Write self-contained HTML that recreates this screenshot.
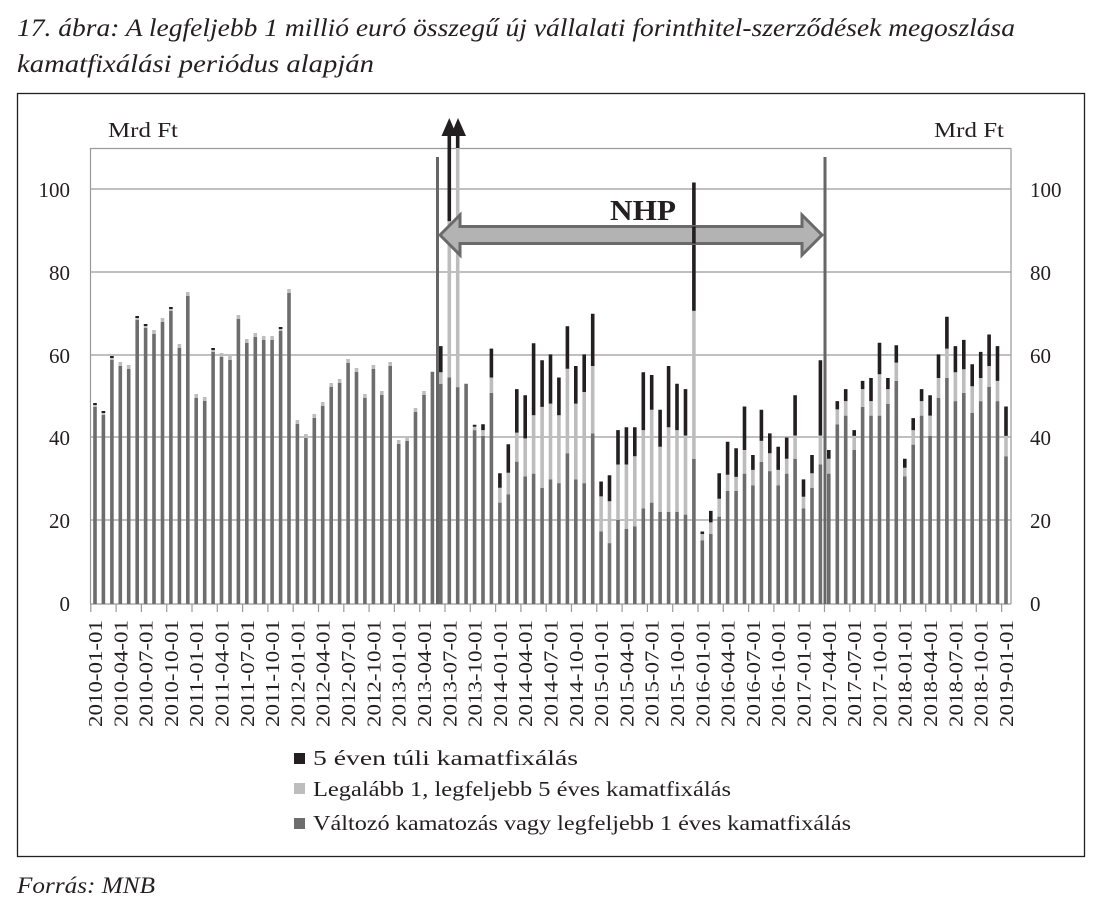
<!DOCTYPE html>
<html><head><meta charset="utf-8"><style>
html,body{margin:0;padding:0;background:#fff;}
svg{display:block;font-family:"Liberation Serif",serif;}
</style></head><body>
<svg width="1098" height="912" viewBox="0 0 1098 912" xmlns="http://www.w3.org/2000/svg">
<text x="17" y="36" font-size="25" font-style="italic" fill="#231f20" textLength="998" lengthAdjust="spacingAndGlyphs">17. ábra: A legfeljebb 1 millió euró összegű új vállalati forinthitel-szerződések megoszlása</text>
<text x="17" y="72" font-size="25" font-style="italic" fill="#231f20" textLength="357" lengthAdjust="spacingAndGlyphs">kamatfixálási periódus alapján</text>
<rect x="17.5" y="93.5" width="1067" height="763" fill="none" stroke="#231f20" stroke-width="1.3"/>
<text x="108" y="137" font-size="21" fill="#231f20" textLength="70" lengthAdjust="spacingAndGlyphs">Mrd Ft</text>
<text x="934" y="137" font-size="21" fill="#231f20" textLength="70" lengthAdjust="spacingAndGlyphs">Mrd Ft</text>
<g stroke="#9a9a9a" stroke-width="1.2">
<line x1="90.5" y1="148.5" x2="1011" y2="148.5"/>
<line x1="90.5" y1="148" x2="90.5" y2="604"/>
<line x1="1011" y1="148" x2="1011" y2="604"/>
<line x1="90" y1="189" x2="1011" y2="189"/>
<line x1="90" y1="272" x2="1011" y2="272"/>
<line x1="90" y1="355" x2="1011" y2="355"/>
<line x1="90" y1="437" x2="1011" y2="437"/>
<line x1="90" y1="520" x2="1011" y2="520"/>
<line x1="90" y1="604" x2="1011" y2="604"/>
</g>
<g font-size="21" fill="#231f20" text-anchor="end">
<text x="70" y="197">100</text><text x="70" y="280">80</text><text x="70" y="363">60</text><text x="70" y="445">40</text><text x="70" y="528">20</text><text x="70" y="611">0</text>
</g>
<g font-size="21" fill="#231f20">
<text x="1030" y="197">100</text><text x="1030" y="280">80</text><text x="1030" y="363">60</text><text x="1030" y="445">40</text><text x="1030" y="528">20</text><text x="1030" y="611">0</text>
</g>
<g fill="none" stroke-width="3.6">
<path stroke="#6d6d6d" d="M95 604V407M103.4 604V415M111.9 604V360M120.3 604V366M128.7 604V369M137.2 604V320M145.6 604V328M154 604V334M162.5 604V322M170.9 604V311M179.4 604V348M187.8 604V296M196.2 604V398M204.7 604V401M213.1 604V352M221.5 604V357M230 604V360M238.4 604V319M246.8 604V343M255.3 604V337M263.7 604V340M272.1 604V340M280.6 604V331M289 604V293M297.4 604V424M305.9 604V438M314.3 604V418M322.7 604V406M331.2 604V387M339.6 604V383M348.1 604V363M356.5 604V372M364.9 604V398M373.4 604V369M381.8 604V395M390.2 604V366M398.7 604V444M407.1 604V441M415.5 604V412M424 604V395M432.4 604V371.7M440.8 604V383.8M449.3 604V377.5M457.7 604V387.1M466.1 604V383.8M474.6 604V430.1M483 604V435.9M491.4 604V392.9M499.9 604V502.6M508.3 604V494.3M516.8 604V461.6M525.2 604V476.5M533.6 604V473.6M542.1 604V487.7M550.5 604V479.4M558.9 604V483.1M567.4 604V453.3M575.8 604V479.4M584.2 604V483.1M592.7 604V433.4M601.1 604V531.5M609.5 604V543.1M618 604V520M626.4 604V528.7M634.8 604V526.2M643.3 604V508.4M651.7 604V502.6M660.1 604V511.7M668.6 604V511.7M677 604V511.7M685.5 604V514.6M693.9 604V458.7M702.3 604V540.2M710.8 604V534M719.2 604V516.6M727.6 604V491M736.1 604V491M744.5 604V473.6M752.9 604V485.2M761.4 604V462M769.8 604V471.1M778.2 604V485.2M786.7 604V473.6M795.1 604V458.7M803.5 604V508.4M812 604V487.7M820.4 604V464.5M828.8 604V473.6M837.3 604V424.3M845.7 604V415.6M854.2 604V450M862.6 604V406.9M871 604V415.6M879.5 604V415.6M887.9 604V404M896.3 604V380.9M904.8 604V476.5M913.2 604V444.6M921.6 604V415.6M930.1 604V435.9M938.5 604V397.8M946.9 604V378M955.4 604V401.1M963.8 604V392.9M972.2 604V412.7M980.7 604V401.1M989.1 604V386.7M997.5 604V401.1M1006 604V456.2"/>
<path stroke="#bdbdbd" d="M95 407V403M103.4 415V411M111.9 360V356M120.3 366V362M128.7 369V365M137.2 320V316M145.6 328V324M154 334V330M162.5 322V318M170.9 311V307M179.4 348V344M187.8 296V292M196.2 398V394M204.7 401V397M213.1 352V348M221.5 357V353M230 360V356M238.4 319V315M246.8 343V339M255.3 337V333M263.7 340V336M272.1 340V336M280.6 331V327M289 293V289M297.4 424V420M305.9 438V434M314.3 418V414M322.7 406V402M331.2 387V383M339.6 383V379M348.1 363V359M356.5 372V368M364.9 398V394M373.4 369V365M381.8 395V391M390.2 366V362M398.7 444V440M407.1 441V437M415.5 412V408M424 395V391M440.8 383.8V372.2M449.3 377.5V221.1M457.7 387.1V148M474.6 430.1V426.8M483 435.9V430.1M491.4 392.9V377.5M499.9 502.6V487.7M508.3 494.3V472.8M516.8 461.6V432.6M525.2 476.5V438.4M533.6 473.6V415.2M542.1 487.7V406.9M550.5 479.4V403.6M558.9 483.1V415.2M567.4 453.3V368.8M575.8 479.4V403.6M584.2 483.1V392M592.7 433.4V366M601.1 531.5V496.4M609.5 543.1V501.3M618 520V464.5M626.4 528.7V464.5M634.8 526.2V456.2M643.3 508.4V430.1M651.7 502.6V409.8M660.1 511.7V446.7M668.6 511.7V427.2M677 511.7V430.1M685.5 514.6V435.5M693.9 458.7V310.9M702.3 540.2V534M710.8 534V522.4M719.2 516.6V498.8M727.6 491V474.8M736.1 491V476.9M744.5 473.6V450M752.9 485.2V469.9M761.4 462V440.9M769.8 471.1V453.3M778.2 485.2V469.9M786.7 473.6V458.7M795.1 458.7V435.5M803.5 508.4V496.8M812 487.7V473.2M820.4 464.5V435.5M828.8 473.6V458.7M837.3 424.3V409.4M845.7 415.6V401.1M854.2 450V435.9M862.6 406.9V389.1M871 415.6V401.1M879.5 415.6V374.2M887.9 404V389.1M896.3 380.9V362.6M904.8 476.5V467.8M913.2 444.6V430.1M921.6 415.6V401.1M930.1 435.9V415.6M938.5 397.8V378M946.9 378V348.6M955.4 401.1V372.2M963.8 392.9V369.3M972.2 412.7V386.2M980.7 401.1V378M989.1 386.7V366M997.5 401.1V380.9M1006 456.2V435.9"/>
<path stroke="#231f20" d="M95 405V403M103.4 413V411M111.9 358V356M137.2 318V316M145.6 326V324M170.9 309V307M213.1 350V348M280.6 329V327M440.8 372.2V346.1M449.3 221.1V136M457.7 148V136M474.6 426.8V424.7M483 430.1V424.3M491.4 377.5V348.6M499.9 487.7V473.2M508.3 472.8V444.2M516.8 432.6V389.1M525.2 438.4V395.3M533.6 415.2V343.2M542.1 406.9V360.2M550.5 403.6V354.4M558.9 415.2V377.5M567.4 368.8V326.2M575.8 403.6V366M584.2 392V354.4M592.7 366V313.8M601.1 496.4V481.5M609.5 501.3V475.2M618 464.5V430.1M626.4 464.5V427.2M634.8 456.2V427.2M643.3 430.1V372.2M651.7 409.8V375M660.1 446.7V409.8M668.6 427.2V366M677 430.1V383.8M685.5 435.5V389.1M693.9 310.9V182.5M702.3 534V531.5M710.8 522.4V510.9M719.2 498.8V473.2M727.6 474.8V441.7M736.1 476.9V448.3M744.5 450V406.5M752.9 469.9V455M761.4 440.9V409.8M769.8 453.3V433.4M778.2 469.9V446.7M786.7 458.7V437.6M795.1 435.5V395.3M803.5 496.8V479.4M812 473.2V455M820.4 435.5V360.2M828.8 458.7V450M837.3 409.4V401.1M845.7 401.1V389.1M854.2 435.9V430.1M862.6 389.1V380.9M871 401.1V378M879.5 374.2V342.8M887.9 389.1V378M896.3 362.6V345.3M904.8 467.8V458.7M913.2 430.1V418.1M921.6 401.1V389.1M930.1 415.6V395.3M938.5 378V354.4M946.9 348.6V316.7M955.4 372.2V346.1M963.8 369.3V339.9M972.2 386.2V364.3M980.7 378V351.9M989.1 366V334.5M997.5 380.9V346.1M1006 435.9V406.5"/>
</g>
<g stroke="#9a9a9a" stroke-width="1.2">
<path d="M90.8 604V612M116.1 604V612M141.4 604V612M166.7 604V612M192 604V612M217.3 604V612M242.6 604V612M267.9 604V612M293.2 604V612M318.5 604V612M343.8 604V612M369.1 604V612M394.4 604V612M419.7 604V612M445 604V612M470.3 604V612M495.6 604V612M520.9 604V612M546.2 604V612M571.5 604V612M596.8 604V612M622.1 604V612M647.4 604V612M672.7 604V612M698 604V612M723.3 604V612M748.6 604V612M773.9 604V612M799.2 604V612M824.5 604V612M849.8 604V612M875.1 604V612M900.4 604V612M925.7 604V612M951 604V612M976.3 604V612M1001.6 604V612"/>
</g>
<g font-size="20" fill="#231f20" text-anchor="end" lengthAdjust="spacingAndGlyphs">
<text transform="translate(102,620) rotate(-90)" textLength="107" lengthAdjust="spacingAndGlyphs">2010-01-01</text>
<text transform="translate(127.3,620) rotate(-90)" textLength="107" lengthAdjust="spacingAndGlyphs">2010-04-01</text>
<text transform="translate(152.6,620) rotate(-90)" textLength="107" lengthAdjust="spacingAndGlyphs">2010-07-01</text>
<text transform="translate(177.9,620) rotate(-90)" textLength="107" lengthAdjust="spacingAndGlyphs">2010-10-01</text>
<text transform="translate(203.2,620) rotate(-90)" textLength="107" lengthAdjust="spacingAndGlyphs">2011-01-01</text>
<text transform="translate(228.5,620) rotate(-90)" textLength="107" lengthAdjust="spacingAndGlyphs">2011-04-01</text>
<text transform="translate(253.8,620) rotate(-90)" textLength="107" lengthAdjust="spacingAndGlyphs">2011-07-01</text>
<text transform="translate(279.1,620) rotate(-90)" textLength="107" lengthAdjust="spacingAndGlyphs">2011-10-01</text>
<text transform="translate(304.4,620) rotate(-90)" textLength="107" lengthAdjust="spacingAndGlyphs">2012-01-01</text>
<text transform="translate(329.7,620) rotate(-90)" textLength="107" lengthAdjust="spacingAndGlyphs">2012-04-01</text>
<text transform="translate(355,620) rotate(-90)" textLength="107" lengthAdjust="spacingAndGlyphs">2012-07-01</text>
<text transform="translate(380.4,620) rotate(-90)" textLength="107" lengthAdjust="spacingAndGlyphs">2012-10-01</text>
<text transform="translate(405.7,620) rotate(-90)" textLength="107" lengthAdjust="spacingAndGlyphs">2013-01-01</text>
<text transform="translate(431,620) rotate(-90)" textLength="107" lengthAdjust="spacingAndGlyphs">2013-04-01</text>
<text transform="translate(456.3,620) rotate(-90)" textLength="107" lengthAdjust="spacingAndGlyphs">2013-07-01</text>
<text transform="translate(481.6,620) rotate(-90)" textLength="107" lengthAdjust="spacingAndGlyphs">2013-10-01</text>
<text transform="translate(506.9,620) rotate(-90)" textLength="107" lengthAdjust="spacingAndGlyphs">2014-01-01</text>
<text transform="translate(532.2,620) rotate(-90)" textLength="107" lengthAdjust="spacingAndGlyphs">2014-04-01</text>
<text transform="translate(557.5,620) rotate(-90)" textLength="107" lengthAdjust="spacingAndGlyphs">2014-07-01</text>
<text transform="translate(582.8,620) rotate(-90)" textLength="107" lengthAdjust="spacingAndGlyphs">2014-10-01</text>
<text transform="translate(608.1,620) rotate(-90)" textLength="107" lengthAdjust="spacingAndGlyphs">2015-01-01</text>
<text transform="translate(633.4,620) rotate(-90)" textLength="107" lengthAdjust="spacingAndGlyphs">2015-04-01</text>
<text transform="translate(658.7,620) rotate(-90)" textLength="107" lengthAdjust="spacingAndGlyphs">2015-07-01</text>
<text transform="translate(684,620) rotate(-90)" textLength="107" lengthAdjust="spacingAndGlyphs">2015-10-01</text>
<text transform="translate(709.3,620) rotate(-90)" textLength="107" lengthAdjust="spacingAndGlyphs">2016-01-01</text>
<text transform="translate(734.6,620) rotate(-90)" textLength="107" lengthAdjust="spacingAndGlyphs">2016-04-01</text>
<text transform="translate(759.9,620) rotate(-90)" textLength="107" lengthAdjust="spacingAndGlyphs">2016-07-01</text>
<text transform="translate(785.2,620) rotate(-90)" textLength="107" lengthAdjust="spacingAndGlyphs">2016-10-01</text>
<text transform="translate(810.5,620) rotate(-90)" textLength="107" lengthAdjust="spacingAndGlyphs">2017-01-01</text>
<text transform="translate(835.8,620) rotate(-90)" textLength="107" lengthAdjust="spacingAndGlyphs">2017-04-01</text>
<text transform="translate(861.1,620) rotate(-90)" textLength="107" lengthAdjust="spacingAndGlyphs">2017-07-01</text>
<text transform="translate(886.4,620) rotate(-90)" textLength="107" lengthAdjust="spacingAndGlyphs">2017-10-01</text>
<text transform="translate(911.7,620) rotate(-90)" textLength="107" lengthAdjust="spacingAndGlyphs">2018-01-01</text>
<text transform="translate(937,620) rotate(-90)" textLength="107" lengthAdjust="spacingAndGlyphs">2018-04-01</text>
<text transform="translate(962.3,620) rotate(-90)" textLength="107" lengthAdjust="spacingAndGlyphs">2018-07-01</text>
<text transform="translate(987.6,620) rotate(-90)" textLength="107" lengthAdjust="spacingAndGlyphs">2018-10-01</text>
<text transform="translate(1012.9,620) rotate(-90)" textLength="107" lengthAdjust="spacingAndGlyphs">2019-01-01</text>
</g>
<line x1="437.5" y1="157" x2="437.5" y2="604" stroke="#666" stroke-width="3"/>
<line x1="825" y1="157" x2="825" y2="604" stroke="#666" stroke-width="3"/>
<polygon points="449.3,118 441.5,136 457,136" fill="#231f20"/>
<polygon points="458,118 450.5,136 466,136" fill="#231f20"/>
<polygon points="440,235 460,215 460,226.5 802,226.5 802,215 822,235 802,255 802,243.5 460,243.5 460,255" fill="#b3b3b3" stroke="#6a6a6a" stroke-width="3"/>
<line x1="693.9" y1="226.5" x2="693.9" y2="243.5" stroke="#231f20" stroke-width="3.6"/>
<text x="643" y="220" font-size="29" font-weight="bold" text-anchor="middle" fill="#231f20" textLength="66" lengthAdjust="spacingAndGlyphs">NHP</text>
<rect x="294" y="753" width="11" height="11" fill="#231f20"/>
<rect x="294" y="783" width="11" height="11" fill="#bdbdbd"/>
<rect x="294" y="818" width="11" height="11" fill="#6d6d6d"/>
<g font-size="21" fill="#231f20">
<text x="313" y="765" textLength="265" lengthAdjust="spacingAndGlyphs">5 éven túli kamatfixálás</text>
<text x="313" y="796" textLength="418" lengthAdjust="spacingAndGlyphs">Legalább 1, legfeljebb 5 éves kamatfixálás</text>
<text x="313" y="830" textLength="538" lengthAdjust="spacingAndGlyphs">Változó kamatozás vagy legfeljebb 1 éves kamatfixálás</text>
</g>
<text x="17" y="893" font-size="23" font-style="italic" fill="#231f20" textLength="138" lengthAdjust="spacingAndGlyphs">Forrás: MNB</text>
</svg>
</body></html>
